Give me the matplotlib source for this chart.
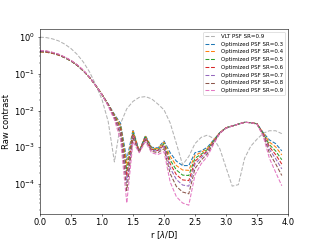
import matplotlib
matplotlib.use("Agg")
import matplotlib.pyplot as plt
import numpy as np

# separation in lambda/D
r = [0.0, 0.1, 0.2, 0.3, 0.4, 0.5, 0.6, 0.7, 0.8, 0.9,
     1.0, 1.1, 1.2, 1.3, 1.4, 1.5, 1.6, 1.7, 1.8, 1.9,
     2.0, 2.1, 2.2, 2.3, 2.4, 2.5, 2.6, 2.7, 2.8, 2.9,
     3.0, 3.1, 3.2, 3.3, 3.4, 3.5, 3.6, 3.7, 3.8, 3.9]

# contrast profiles, stored as log10(raw contrast)
log_vlt = [0.00, -0.01, -0.045, -0.10, -0.19, -0.31, -0.47, -0.68, -0.95, -1.30,
           -1.70, -2.30, -3.40, -2.35, -1.95, -1.75, -1.64, -1.62, -1.68, -1.82,
           -1.98, -2.34, -2.90, -3.48, -3.25, -2.90, -2.73, -2.67, -2.76, -3.04,
           -3.55, -4.06, -4.02, -3.30, -2.97, -2.78, -2.62, -2.55, -2.55, -2.63]

log_sr03 = [-0.40, -0.41, -0.44, -0.49, -0.56, -0.65, -0.77, -0.92, -1.10, -1.32,
            -1.56, -1.82, -2.10, -2.35, -3.35, -2.52, -3.10, -2.68, -3.00, -3.02,
            -2.83, -3.15, -3.38, -3.50, -3.50, -3.15, -3.10, -3.00, -2.80, -2.60,
            -2.47, -2.42, -2.37, -2.32, -2.33, -2.36, -2.60, -2.80, -2.90, -3.10]
log_sr04 = [-0.40, -0.41, -0.44, -0.49, -0.56, -0.65, -0.77, -0.92, -1.10, -1.32,
            -1.56, -1.83, -2.12, -2.40, -3.49, -2.56, -3.11, -2.70, -3.02, -3.04,
            -2.86, -3.25, -3.50, -3.62, -3.63, -3.22, -3.14, -3.03, -2.81, -2.60,
            -2.47, -2.42, -2.37, -2.32, -2.33, -2.36, -2.61, -2.86, -2.99, -3.21]
log_sr05 = [-0.39, -0.40, -0.43, -0.48, -0.56, -0.65, -0.77, -0.92, -1.10, -1.32,
            -1.56, -1.84, -2.14, -2.46, -3.64, -2.60, -3.11, -2.72, -3.04, -3.07,
            -2.90, -3.35, -3.62, -3.76, -3.77, -3.30, -3.19, -3.06, -2.83, -2.61,
            -2.47, -2.42, -2.37, -2.32, -2.33, -2.36, -2.63, -2.93, -3.10, -3.34]
log_sr06 = [-0.39, -0.40, -0.43, -0.48, -0.55, -0.64, -0.76, -0.91, -1.10, -1.32,
            -1.56, -1.84, -2.16, -2.52, -3.79, -2.65, -3.12, -2.74, -3.06, -3.09,
            -2.94, -3.45, -3.75, -3.89, -3.91, -3.38, -3.23, -3.10, -2.85, -2.61,
            -2.47, -2.42, -2.37, -2.32, -2.33, -2.36, -2.64, -2.99, -3.20, -3.46]
log_sr07 = [-0.38, -0.39, -0.42, -0.47, -0.55, -0.64, -0.76, -0.91, -1.09, -1.32,
            -1.57, -1.85, -2.18, -2.58, -3.96, -2.69, -3.13, -2.77, -3.08, -3.11,
            -2.98, -3.57, -3.88, -4.03, -4.06, -3.46, -3.28, -3.13, -2.86, -2.61,
            -2.48, -2.42, -2.37, -2.32, -2.33, -2.37, -2.65, -3.06, -3.31, -3.59]
log_sr08 = [-0.37, -0.38, -0.42, -0.47, -0.55, -0.64, -0.76, -0.91, -1.09, -1.32,
            -1.57, -1.86, -2.21, -2.67, -4.18, -2.75, -3.14, -2.80, -3.11, -3.15,
            -3.04, -3.72, -4.07, -4.22, -4.27, -3.58, -3.35, -3.18, -2.89, -2.62,
            -2.48, -2.42, -2.37, -2.32, -2.33, -2.37, -2.67, -3.16, -3.45, -3.77]
log_sr09 = [-0.36, -0.37, -0.41, -0.46, -0.54, -0.63, -0.75, -0.90, -1.09, -1.32,
            -1.57, -1.88, -2.25, -2.80, -4.52, -2.85, -3.15, -2.85, -3.15, -3.20,
            -3.12, -3.95, -4.35, -4.52, -4.58, -3.75, -3.45, -3.25, -2.92, -2.62,
            -2.48, -2.42, -2.37, -2.32, -2.33, -2.37, -2.70, -3.30, -3.68, -4.05]

sr_labels = ["0.3", "0.4", "0.5", "0.6", "0.7", "0.8", "0.9"]
optimized = [log_sr03, log_sr04, log_sr05, log_sr06, log_sr07, log_sr08, log_sr09]

fig, ax = plt.subplots(figsize=(6.4, 4.8), dpi=50)

ax.plot(r, 10 ** np.array(log_vlt), '--', color='gray', alpha=0.6,
        label='VLT PSF SR=0.9')
for i, (sr, prof) in enumerate(zip(sr_labels, optimized)):
    ax.plot(r, 10 ** np.array(prof), '--', color='C%d' % i,
            label='Optimized PSF SR=' + sr)

ax.set_yscale('log')
ax.set_xlim(0, 4)
ax.set_xlabel(r'r [$\lambda$/D]', fontsize=12, labelpad=2)
ax.set_ylabel('Raw contrast', fontsize=12)
ax.tick_params(labelsize=12)
ax.legend(loc='upper right', fontsize=8)

fig.savefig('out.png', dpi=50)
